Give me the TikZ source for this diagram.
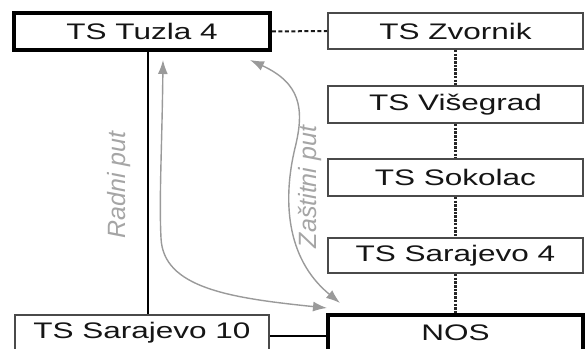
\documentclass[tikz,border=0pt]{standalone}
\usepackage{fontspec}
\setmainfont[FakeStretch=1.4]{Liberation Sans}
\newfontfamily\labelfont{Liberation Sans}
\usetikzlibrary{arrows.meta}
\definecolor{boxgray}{HTML}{4A4A4A}
\definecolor{pathgray}{HTML}{9A9A9A}
\definecolor{labelgray}{HTML}{A5A5A5}
\definecolor{txt}{HTML}{151515}
\tikzset{
  stbox/.style={draw=boxgray, line width=2pt, fill=white, minimum width=255pt, minimum height=36pt,
    inner sep=0pt, text=txt, font=\fontsize{22.5}{24}\selectfont},
  mainbox/.style={stbox, draw=black, line width=3.6pt},
  linkline/.style={line width=2.6pt, black},
  dashlink/.style={line width=2pt, black!90, dash pattern=on 4pt off 2.5pt},
  dotlink/.style={line width=2.6pt, black!85, dash pattern=on 2.5pt off 1.2pt},
  pathline/.style={line width=1.4pt, draw=pathgray, {Latex[length=14pt,width=10pt]}-{Latex[length=14pt,width=10pt]}},
  pathlabel/.style={text=labelgray, font=\labelfont\fontsize{25}{27}\selectfont\itshape, rotate=90, inner sep=0pt}
}
\begin{document}
\begin{tikzpicture}[x=1pt,y=1pt]
\useasboundingbox (0,0) rectangle (586,348);
% nodes
\node[mainbox, minimum width=256pt, minimum height=37pt] (tuzla) at (142,316.5) {TS Tuzla 4};
\node[stbox] (zvornik) at (455.5,317) {TS Zvornik};
\node[stbox, minimum height=37pt] (visegrad) at (455.5,243.5) {TS Višegrad};
\node[stbox, minimum height=37pt] (sokolac) at (455.5,170.5) {TS Sokolac};
\node[stbox, minimum height=35pt] (sar4) at (455.5,92.5) {TS Sarajevo 4};
\node[stbox, minimum width=254pt] (sar10) at (142,15) {TS Sarajevo 10};
\node[mainbox] (nos) at (455.5,15) {NOS};
% connectors
\draw[linkline] ([xshift=6pt]tuzla.south) -- ([xshift=6pt]sar10.north);
\draw[linkline] ([yshift=-3pt]sar10.east) -- ([yshift=-3pt]nos.west);
\draw[dashlink] (tuzla.east) -- (zvornik.west);
\draw[dotlink] (zvornik.south) -- (visegrad.north);
\draw[dotlink] (visegrad.south) -- (sokolac.north);
\draw[dotlink] (sokolac.south) -- (sar4.north);
\draw[dotlink] (sar4.south) -- (nos.north);
% paths
\coordinate (wtop) at (163,288);
\coordinate (wbot) at (327,40);
\coordinate (ptop) at (250,288);
\coordinate (pbot) at (340,45);
\draw[pathline] (wtop) .. controls (162,200) and (159,150) .. (161,110) .. controls (163,60) and (230,50) .. (wbot);
\draw[pathline] (ptop) .. controls (300,265) and (305,240) .. (295,200) .. controls (283,150) and (285,90) .. (pbot);
\node[pathlabel] (radni) at (119,163) {Radni put};
\node[pathlabel] (zastitni) at (310,161) {Zaštitni put};
\end{tikzpicture}
\end{document}
